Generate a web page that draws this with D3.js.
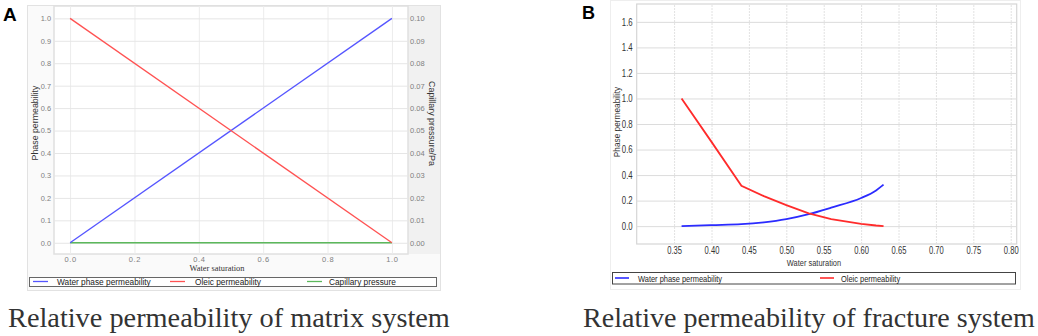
<!DOCTYPE html>
<html><head><meta charset="utf-8">
<script src="https://cdn.jsdelivr.net/npm/d3@7"></script>
<style>
html,body{margin:0;padding:0;background:#fff;}
svg{display:block;}
</style></head>
<body>
<svg id="c" width="1038" height="336"></svg>
<script>
// ---------- DATA ----------
const matrixSw = [0, 1];
const matrixWater = [0, 1];
const matrixOil = [1, 0];
const matrixPc = [0, 0];
const matrixXTicks = [0, 0.2, 0.4, 0.6, 0.8, 1.0];
const matrixYTicks = [0, 0.1, 0.2, 0.3, 0.4, 0.5, 0.6, 0.7, 0.8, 0.9, 1.0];
const matrixY2Ticks = [0, 0.01, 0.02, 0.03, 0.04, 0.05, 0.06, 0.07, 0.08, 0.09, 0.10];
const matrixLegend = ["Water phase permeability", "Oleic permeability", "Capillary pressure"];

const fracSw = [0.36, 0.40, 0.44, 0.47, 0.50, 0.53, 0.56, 0.60, 0.62, 0.63];
const fracWater = [0.0, 0.008, 0.015, 0.03, 0.055, 0.094, 0.145, 0.22, 0.28, 0.325];
const fracOil = [1.0, 0.66, 0.316, 0.235, 0.165, 0.10, 0.055, 0.018, 0.005, 0.0];
const fracXTicks = [0.35, 0.40, 0.45, 0.50, 0.55, 0.60, 0.65, 0.70, 0.75, 0.80];
const fracYTicks = [0, 0.2, 0.4, 0.6, 0.8, 1.0, 1.2, 1.4, 1.6];
const fracLegend = ["Water phase permeability", "Oleic permeability"];

const captions = ["Relative permeability of matrix system", "Relative permeability of fracture system"];

// ---------- DRAW ----------
const svg = d3.select("#c");
svg.append("rect").attr("width",1038).attr("height",336).attr("fill","#fff");
const SANS = "'Liberation Sans', Arial, sans-serif";
const SERIF = "'Liberation Serif', 'Times New Roman', serif";

// horizontally condense text elements (simulating a narrow face)
function condense(sel, k) {
  sel.each(function() {
    const t = d3.select(this);
    const ax = +t.attr("x") || 0;
    const ay = +t.attr("y") || 0;
    const prev = t.attr("transform") || "";
    t.attr("x", 0).attr("y", 0)
     .attr("transform", `${prev} translate(${ax},${ay}) scale(${k},1)`);
  });
}

// ===== Panel A =====
{
  const g = svg.append("g");
  g.append("rect").attr("x",27.5).attr("y",5.5).attr("width",413).attr("height",285)
    .attr("fill","#fafafa").attr("stroke","#e2e2e2");
  g.append("rect").attr("x",408).attr("y",6).attr("width",32).attr("height",248).attr("fill","#f1f1f1");
  const x = d3.scaleLinear([-0.05, 1.05], [54, 408]);
  const y = d3.scaleLinear([-0.05, 1.055], [254, 6]);
  const y2 = d3.scaleLinear([-0.005, 0.1055], [254, 6]);
  g.append("rect").attr("x",54).attr("y",6).attr("width",354).attr("height",248)
    .attr("fill","#fff").attr("stroke","#e0e0e0").attr("stroke-width",1.5);
  g.append("g").attr("transform","translate(0,254)")
    .call(d3.axisBottom(x).tickValues(matrixXTicks).tickSize(-248).tickFormat(""))
    .call(a=>a.select(".domain").remove())
    .call(a=>a.selectAll("line").attr("stroke","#ececec"));
  g.append("g").attr("transform","translate(54,0)")
    .call(d3.axisLeft(y).tickValues(matrixYTicks).tickSize(-354).tickFormat(""))
    .call(a=>a.select(".domain").remove())
    .call(a=>a.selectAll("line").attr("stroke","#e6e6e6"));
  g.append("g").attr("transform","translate(54,0)")
    .call(d3.axisLeft(y).tickValues(matrixYTicks).tickSize(0).tickPadding(3).tickFormat(d3.format(".1f")))
    .call(a=>a.select(".domain").remove())
    .call(a=>a.selectAll("text").attr("fill","#808080").attr("font-family",SANS).attr("font-size",7.4));
  g.append("g").attr("transform","translate(408,0)")
    .call(d3.axisRight(y2).tickValues(matrixY2Ticks).tickSize(0).tickPadding(2).tickFormat(d3.format(".2f")))
    .call(a=>a.select(".domain").remove())
    .call(a=>a.selectAll("text").attr("fill","#808080").attr("font-family",SANS).attr("font-size",7.5));
  g.append("g").attr("transform","translate(0,254)")
    .call(d3.axisBottom(x).tickValues(matrixXTicks).tickSize(0).tickPadding(3).tickFormat(d3.format(".1f")))
    .call(a=>a.select(".domain").remove())
    .call(a=>a.selectAll("text").attr("fill","#808080").attr("font-family",SANS).attr("font-size",7.5).attr("letter-spacing",0.6));
  g.append("text").attr("x",217).attr("y",271).attr("text-anchor","middle")
    .attr("font-family",SERIF).attr("font-size",8.4).attr("fill","#333").text("Water saturation");
  g.append("text").attr("transform","translate(37.5,123) rotate(-90)").attr("text-anchor","middle")
    .attr("font-family",SANS).attr("font-size",8.8).attr("fill","#333").text("Phase permeability");
  g.append("text").attr("transform","translate(428.5,123.5) rotate(90)").attr("text-anchor","middle")
    .attr("font-family",SANS).attr("font-size",8.9).attr("fill","#333").text("Capillary pressure/Pa");
  const pts = (xs, ys) => xs.map((d,i)=>[d, ys[i]]);
  const line = d3.line().x(d=>x(d[0])).y(d=>y(d[1]));
  const line2 = d3.line().x(d=>x(d[0])).y(d=>y2(d[1]));
  g.append("path").attr("d",line2(pts(matrixSw, matrixPc))).attr("fill","none").attr("stroke","#5cb85c").attr("stroke-width",1.4);
  g.append("path").attr("d",line(pts(matrixSw, matrixWater))).attr("fill","none").attr("stroke","#5555ff").attr("stroke-width",1.3);
  g.append("path").attr("d",line(pts(matrixSw, matrixOil))).attr("fill","none").attr("stroke","#ff5252").attr("stroke-width",1.3);
  g.append("rect").attr("x",29.5).attr("y",277.5).attr("width",407).attr("height",9)
    .attr("fill","#fff").attr("stroke","#666").attr("stroke-width",1);
  const cols = ["#5555ff","#ff5252","#5cb85c"];
  const lx = [33, 170, 307];
  const tx = [57, 195, 329];
  matrixLegend.forEach((t,i)=>{
    g.append("line").attr("x1",lx[i]).attr("x2",lx[i]+15).attr("y1",281.5).attr("y2",281.5)
      .attr("stroke",cols[i]).attr("stroke-width",1.3);
    g.append("text").attr("x",tx[i]).attr("y",284.6).attr("font-family",SANS).attr("font-size",8.3)
      .attr("fill","#222").text(t);
  });
  g.append("text").attr("x",3).attr("y",21).attr("font-family",SANS).attr("font-weight","bold")
    .attr("font-size",19).attr("fill","#000").text("A");
}

// ===== Panel B =====
{
  const g = svg.append("g");
  g.append("rect").attr("x",610.5).attr("y",0.5).attr("width",410).attr("height",289)
    .attr("fill","#fff").attr("stroke","#eeeeee");
  const x = d3.scaleLinear([0.30, 0.808], [636.7, 1016.7]);
  const y = d3.scaleLinear([-0.14, 1.74], [244, 4]);
  g.append("rect").attr("x",636.7).attr("y",4).attr("width",380).attr("height",240)
    .attr("fill","#fff").attr("stroke","#d6d6d6").attr("stroke-width",1.2);
  g.append("g").attr("transform","translate(0,244)")
    .call(d3.axisBottom(x).tickValues(fracXTicks).tickSize(-240).tickFormat(""))
    .call(a=>a.select(".domain").remove())
    .call(a=>a.selectAll("line").attr("stroke","#e2e2e2").attr("stroke-dasharray","2,1"));
  g.append("g").attr("transform","translate(636.7,0)")
    .call(d3.axisLeft(y).tickValues(fracYTicks).tickSize(-380).tickFormat(""))
    .call(a=>a.select(".domain").remove())
    .call(a=>a.selectAll("line").attr("stroke","#dcdcdc"));
  g.append("g").attr("transform","translate(636.7,0)")
    .call(d3.axisLeft(y).tickValues(fracYTicks).tickSize(0).tickPadding(4).tickFormat(d3.format(".1f")))
    .call(a=>a.select(".domain").remove())
    .call(a=>a.selectAll("text").attr("fill","#333").attr("font-family",SANS).attr("font-size",10))
    .call(a=>condense(a.selectAll("text"), 0.78));
  g.append("g").attr("transform","translate(0,244)")
    .call(d3.axisBottom(x).tickValues(fracXTicks).tickSize(0).tickPadding(3).tickFormat(d3.format(".2f")))
    .call(a=>a.select(".domain").remove())
    .call(a=>a.selectAll("text").attr("fill","#333").attr("font-family",SANS).attr("font-size",10))
    .call(a=>condense(a.selectAll("text"), 0.76));
  condense(g.append("text").attr("x",814).attr("y",266).attr("text-anchor","middle")
    .attr("font-family",SANS).attr("font-size",9.8).attr("fill","#333").text("Water saturation"), 0.76);
  g.append("text").attr("transform","translate(620,122) rotate(-90) scale(0.9,1)").attr("text-anchor","middle")
    .attr("font-family",SANS).attr("font-size",9.2).attr("fill","#333").text("Phase permeability");
  const pts = (xs, ys) => xs.map((d,i)=>[d, ys[i]]);
  const line = d3.line().x(d=>x(d[0])).y(d=>y(d[1])).curve(d3.curveMonotoneX);
  g.append("path").attr("d",line(pts(fracSw, fracWater))).attr("fill","none").attr("stroke","#2b2bff").attr("stroke-width",1.8);
  g.append("path").attr("d",d3.line().x(d=>x(d[0])).y(d=>y(d[1]))(pts(fracSw, fracOil))).attr("fill","none").attr("stroke","#ff2b2b").attr("stroke-width",1.8);
  g.append("rect").attr("x",612.5).attr("y",272.5).attr("width",403).attr("height",11.5)
    .attr("fill","#fff").attr("stroke","#444").attr("stroke-width",1);
  const cols = ["#2b2bff","#ff2b2b"];
  const lx = [615, 820];
  const tx = [638, 841];
  fracLegend.forEach((t,i)=>{
    g.append("line").attr("x1",lx[i]).attr("x2",lx[i]+14).attr("y1",278).attr("y2",278)
      .attr("stroke",cols[i]).attr("stroke-width",1.6);
    condense(g.append("text").attr("x",tx[i]).attr("y",281.5).attr("font-family",SANS).attr("font-size",9.2)
      .attr("fill","#222").text(t), 0.81);
  });
  g.append("text").attr("x",582).attr("y",19).attr("font-family",SANS).attr("font-weight","bold")
    .attr("font-size",18).attr("fill","#000").text("B");
}

// ===== Captions =====
const capSpec = [{x:8, w:442}, {x:583, w:452}];
captions.forEach((c,i)=>{
  const t = svg.append("text").attr("x",capSpec[i].x).attr("y",327)
    .attr("font-family",SERIF).attr("font-size",28).attr("fill","#333").text(c);
  const L = t.node().getComputedTextLength();
  t.attr("font-size", 28 * capSpec[i].w / L);
});
</script>
</body></html>
